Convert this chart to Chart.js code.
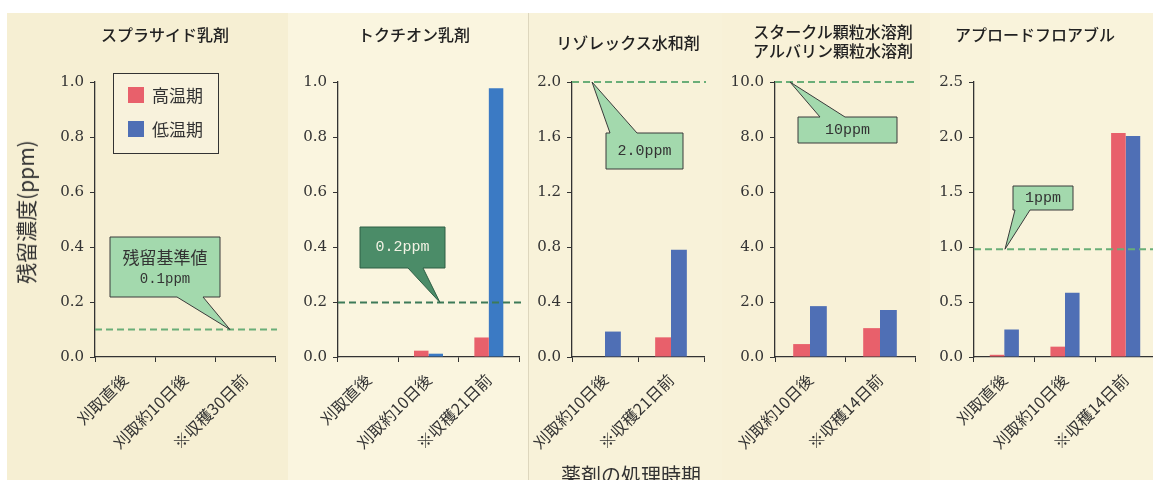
<!DOCTYPE html>
<html>
<head>
<meta charset="utf-8">
<script src="https://cdn.jsdelivr.net/npm/chart.js@4.4.1/dist/chart.umd.min.js"></script>
<style>
  html, body { margin: 0; padding: 0; background: #fff; }
  #wrap { position: relative; width: 1153px; height: 480px; overflow: hidden; }
  .bg { position: absolute; top: 13px; height: 467px; }
  .panel { position: absolute; top: 0; height: 480px; }
  .txt { position: absolute; font-family: "Noto Sans CJK JP", sans-serif; color: #222; white-space: nowrap; }
  .title { font-size: 16px; font-weight: 500; transform: translate(-50%, -50%); text-align: center; line-height: 19px; }
</style>
</head>
<body>
<div id="wrap">
  <div class="bg" style="left:7px;width:281px;background:#f6efd3;"></div>
  <div class="bg" style="left:288px;width:240px;background:#faf5df;border-right:1px solid #ddd6bd;"></div>
  <div class="bg" style="left:529px;width:193px;background:#f8f2d9;"></div>
  <div class="bg" style="left:722px;width:208px;background:#f8f1d7;"></div>
  <div class="bg" style="left:930px;width:223px;background:#f9f3db;"></div>

  <div class="panel" style="left:0;width:290px;"><canvas id="c0"></canvas></div>
  <div class="panel" style="left:280px;width:247px;"><canvas id="c1"></canvas></div>
  <div class="panel" style="left:490px;width:232px;"><canvas id="c2"></canvas></div>
  <div class="panel" style="left:700px;width:230px;"><canvas id="c3"></canvas></div>
  <div class="panel" style="left:910px;width:250px;"><canvas id="c4"></canvas></div>

  <div class="txt title" style="left:165px;top:34px;">スプラサイド乳剤</div>
  <div class="txt title" style="left:414px;top:34px;">トクチオン乳剤</div>
  <div class="txt title" style="left:628px;top:42px;">リゾレックス水和剤</div>
  <div class="txt title" style="left:833px;top:41px;">スタークル顆粒水溶剤<br>アルバリン顆粒水溶剤</div>
  <div class="txt title" style="left:1035px;top:34px;">アプロードフロアブル</div>

  <div class="txt" style="left:25px;top:212px;font-size:21px;transform:translate(-50%,-50%) rotate(-90deg);color:#333;">残留濃度(ppm)</div>
  <div class="txt" style="left:631px;top:474px;font-size:20px;transform:translate(-50%,-50%);color:#333;">薬剤の処理時期</div>
</div>

<script>
// ---- data ----
const seriesNames = ['高温期', '低温期'];

const cats0 = ['刈取直後', '刈取約10日後', '※収穫30日前'];
const high0 = [0, 0, 0];
const low0 = [0, 0, 0];

const cats1 = ['刈取直後', '刈取約10日後', '※収穫21日前'];
const high1 = [0, 0.023, 0.071];
const low1 = [0, 0.012, 0.977];

const cats2 = ['刈取約10日後', '※収穫21日前'];
const high2 = [0, 0.143];
const low2 = [0.185, 0.78];

const cats3 = ['刈取約10日後', '※収穫14日前'];
const high3 = [0.47, 1.05];
const low3 = [1.85, 1.71];

const cats4 = ['刈取直後', '刈取約10日後', '※収穫14日前'];
const high4 = [0.02, 0.094, 2.036];
const low4 = [0.25, 0.585, 2.01];

// residue limits (ppm) and axis ranges
const limits = [0.1, 0.198, 2.0, 10.0, 0.98];
const limitLabels = [['残留基準値', '0.1ppm'], ['0.2ppm'], ['2.0ppm'], ['10ppm'], ['1ppm']];
const yMax = [1.0, 1.0, 2.0, 10.0, 2.5];
const yStep = [0.2, 0.2, 0.4, 2.0, 0.5];

// ---- layout / style ----
const RED = '#e8606b';
const BLUE = '#4f6fb5';
const panels = [
  { id: 'c0', L: 0,   W: 290, left: 95,  right: 275, cats: cats0, high: high0, low: low0, blue: BLUE, legend: true,
    call: { dark: false, x: 15, y: 155, w: 110, h: 60, side: 'bottom', b1: 82, b2: 108, tip: 135 } },
  { id: 'c1', L: 280, W: 247, left: 338, right: 519, cats: cats1, high: high1, low: low1, blue: '#3b7ac4',
    call: { dark: true, x: 22, y: 145, w: 85, h: 41, side: 'bottom', b1: 70, b2: 85, tip: 102 } },
  { id: 'c2', L: 490, W: 232, left: 572, right: 704, cats: cats2, high: high2, low: low2, blue: BLUE,
    call: { dark: false, x: 34, y: 51, w: 77, h: 36, side: 'top', b1: 38, b2: 65, tip: 20 } },
  { id: 'c3', L: 700, W: 230, left: 775, right: 915, cats: cats3, high: high3, low: low3, blue: BLUE,
    call: { dark: false, x: 23, y: 35, w: 99, h: 26, side: 'top', b1: 45, b2: 70, tip: 15 } },
  { id: 'c4', L: 910, W: 250, left: 974, right: 1156, cats: cats4, high: high4, low: low4, blue: BLUE,
    call: { dark: false, x: 39, y: 104, w: 60, h: 24, side: 'bottom', b1: 41, b2: 56, tip: 31 } }
];
const TOP = 82, BOTTOM = 357, YW = 52, XH = 100;
const AXIS = '#333';

// dashed limit line + callout box
const limitPlugin = {
  id: 'limit',
  afterDatasetsDraw(chart, args, opts) {
    const { ctx, chartArea: a, scales: { y } } = chart;
    const yv = y.getPixelForValue(opts.value);
    const c = opts.call;
    ctx.save();
    ctx.strokeStyle = c.dark ? '#3d7a58' : '#6aae78';
    ctx.lineWidth = 2;
    ctx.setLineDash([7, 4]);
    ctx.beginPath();
    ctx.moveTo(a.left, yv);
    ctx.lineTo(a.right + 2, yv);
    ctx.stroke();
    ctx.setLineDash([]);

    const x0 = a.left + c.x, y0 = a.top + c.y, x1 = x0 + c.w, y1 = y0 + c.h;
    ctx.beginPath();
    if (c.side === 'bottom') {
      ctx.moveTo(x0, y0); ctx.lineTo(x1, y0); ctx.lineTo(x1, y1);
      ctx.lineTo(a.left + c.b2, y1); ctx.lineTo(a.left + c.tip, yv);
      ctx.lineTo(a.left + c.b1, y1); ctx.lineTo(x0, y1);
    } else {
      ctx.moveTo(x0, y0); ctx.lineTo(a.left + c.b1, y0); ctx.lineTo(a.left + c.tip, yv);
      ctx.lineTo(a.left + c.b2, y0); ctx.lineTo(x1, y0); ctx.lineTo(x1, y1); ctx.lineTo(x0, y1);
    }
    ctx.closePath();
    ctx.fillStyle = c.dark ? '#4b8c68' : '#a3d9ad';
    ctx.fill();
    ctx.strokeStyle = c.dark ? '#2f5f45' : '#3a3a3a';
    ctx.lineWidth = 1;
    ctx.stroke();

    ctx.fillStyle = c.dark ? '#f2f2e4' : '#333';
    ctx.textAlign = 'center';
    ctx.textBaseline = 'middle';
    const lines = opts.text;
    const cx = (x0 + x1) / 2;
    if (lines.length === 2) {
      ctx.font = '17px "Noto Sans CJK JP"';
      ctx.fillText(lines[0], cx, y0 + 21);
      ctx.font = '14px "Liberation Mono"';
      ctx.fillText(lines[1], cx, y0 + 42);
    } else {
      ctx.font = '15px "Liberation Mono"';
      ctx.fillText(lines[0], cx, (y0 + y1) / 2);
    }
    ctx.restore();
  }
};

// legend box inside first panel
const boxLegend = {
  id: 'boxLegend',
  afterDraw(chart, args, opts) {
    if (!opts.show) return;
    const { ctx, chartArea: a } = chart;
    const x0 = a.left + 18, y0 = a.top - 9;
    ctx.save();
    ctx.fillStyle = '#f8f2dc';
    ctx.fillRect(x0, y0, 105, 80);
    ctx.strokeStyle = '#333';
    ctx.lineWidth = 1;
    ctx.strokeRect(x0 + 0.5, y0 + 0.5, 105, 80);
    ctx.font = '17px "Noto Sans CJK JP"';
    ctx.textBaseline = 'middle';
    chart.data.datasets.forEach((ds, i) => {
      const yy = y0 + 22 + i * 34;
      ctx.fillStyle = ds.backgroundColor;
      ctx.fillRect(x0 + 15, yy - 8, 16, 16);
      ctx.fillStyle = '#333';
      ctx.fillText(ds.label, x0 + 39, yy + 1);
    });
    ctx.restore();
  }
};

panels.forEach((p, i) => {
  new Chart(document.getElementById(p.id), {
    type: 'bar',
    data: {
      labels: p.cats,
      datasets: [
        { label: seriesNames[0], data: p.high, backgroundColor: RED },
        { label: seriesNames[1], data: p.low, backgroundColor: p.blue }
      ]
    },
    options: {
      responsive: true,
      maintainAspectRatio: false,
      animation: false,
      events: [],
      categoryPercentage: 0.48,
      barPercentage: 1.0,
      layout: {
        padding: { left: p.left - p.L - YW, right: p.L + p.W - p.right, top: TOP, bottom: 480 - BOTTOM - XH }
      },
      scales: {
        x: {
          afterFit(s) { s.height = XH; },
          border: { display: true, color: AXIS, width: 1.3 },
          grid: { drawOnChartArea: false, drawTicks: true, tickLength: 5, color: AXIS },
          ticks: {
            autoSkip: false, minRotation: 45, maxRotation: 45, padding: 8,
            color: '#333', font: { family: '"Noto Sans CJK JP"', size: 16 }
          }
        },
        y: {
          min: 0, max: yMax[i],
          afterFit(s) { s.width = YW; },
          border: { display: true, color: AXIS, width: 1.3 },
          grid: { drawOnChartArea: false, drawTicks: true, tickLength: 5, color: AXIS },
          ticks: {
            stepSize: yStep[i], padding: 6, color: '#333',
            font: { family: '"DejaVu Serif"', size: 15 },
            callback: v => v.toFixed(1)
          }
        }
      },
      plugins: {
        legend: { display: false },
        tooltip: { enabled: false },
        limit: { value: limits[i], text: limitLabels[i], call: p.call },
        boxLegend: { show: !!p.legend }
      }
    },
    plugins: [limitPlugin, boxLegend]
  });
});
</script>
</body>
</html>
